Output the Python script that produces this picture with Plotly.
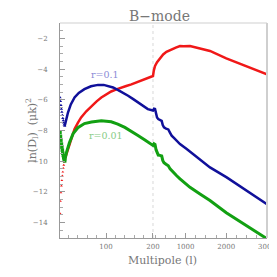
import plotly.graph_objects as go

# ---------------- data ----------------
ell_low = [2, 3, 4, 5, 6, 7, 8, 9, 10, 11, 12]
red_low = [-13.4, -12.6, -12.05, -11.6, -11.25, -10.95, -10.7, -10.45, -10.25, -10.05, -9.9]
blue_low = [-5.85, -6.1, -6.35, -6.6, -6.8, -7.0, -7.2, -7.35, -7.5, -7.62, -7.7]
green_low = [-8.13, -8.38, -8.63, -8.88, -9.08, -9.28, -9.48, -9.63, -9.78, -9.9, -9.98]

ell_red = [12, 19, 26, 33, 40, 47, 58, 69, 80, 90, 100, 111, 122, 132, 143, 154, 165, 175, 185, 193, 200,
           220, 250, 300, 370, 450, 530, 660, 760, 863, 950, 1109, 1250, 1354, 1600, 2000, 2500, 3000]
red = [-9.9, -9.2, -8.5, -7.9, -7.5, -7.15, -6.75, -6.4, -6.1, -5.85, -5.65, -5.46, -5.32, -5.2, -5.1, -5.0,
       -4.88, -4.77, -4.65, -4.55, -4.45,
       -4.1, -3.8, -3.55, -3.3, -3.05, -2.88, -2.71, -2.6, -2.5, -2.52, -2.5, -2.6, -2.67, -2.82, -3.3, -3.8, -4.34]

ell_blue = [12, 15, 19, 25, 33, 42, 54, 68, 83, 95, 104, 115, 125, 136, 147, 158, 168, 180, 189, 200,
            225, 250, 275, 300, 330, 370, 414, 440, 470, 520, 576, 620, 659, 720, 782, 863, 1028, 1190,
            1354, 1600, 2010, 2500, 3000]
blue = [-7.7, -7.3, -6.83, -6.3, -5.85, -5.55, -5.31, -5.12, -5.03, -5.03, -5.1, -5.2, -5.35, -5.53, -5.74,
        -5.96, -6.18, -6.42, -6.61, -6.7,
        -6.58, -6.6, -6.95, -7.15, -7.26, -7.3, -7.37, -7.65, -7.8, -7.88, -7.93, -8.15, -8.34, -8.5, -8.67,
        -8.88, -9.2, -9.53, -9.86, -10.4, -11.05, -11.9, -12.8]

ell_green = [12, 16, 22, 30, 40, 54, 69, 90, 111, 125, 140, 155, 168, 182, 196, 200,
             225, 250, 275, 300, 330, 370, 414, 440, 470, 520, 576, 620, 659, 720, 782, 863, 1028, 1109,
             1354, 1600, 2000, 2500, 3000]
green = [-9.98, -9.4, -8.8, -8.2, -7.82, -7.55, -7.45, -7.37, -7.43, -7.58, -7.8, -8.05, -8.32, -8.6, -8.88, -8.97,
         -8.86, -8.9, -9.25, -9.45, -9.6, -9.62, -9.66, -9.95, -10.1, -10.2, -10.3, -10.5, -10.62, -10.78,
         -10.95, -11.15, -11.5, -11.7, -12.13, -12.56, -13.35, -14.2, -15.05]

major_ticks = [100, 200, 1000, 2000, 3000]
major_text = ["100", "200", "1000", "2000", "3000"]
minor_ticks = [20, 40, 60, 80, 120, 140, 160, 180, 250, 500, 750, 1250, 1500, 1750, 2250, 2500, 2750]
y_ticks = [-14, -12, -10, -8, -6, -4, -2]

# hybrid axis: linear 2-200, compressed linear 200-3000
K = 0.0867


def xp(l):
    return l if l <= 200 else 200 + (l - 200) * K


def tx(arr):
    return [xp(v) for v in arr]


RED = "#f01818"
BLUE = "#10109a"
GREEN = "#12a012"
SERIF = "DejaVu Serif, serif"

fig = go.Figure()
fig.add_trace(go.Scatter(x=tx(ell_red), y=red, mode="lines", line=dict(color=RED, width=2.5)))
fig.add_trace(go.Scatter(x=tx(ell_blue), y=blue, mode="lines", line=dict(color=BLUE, width=2.5)))
fig.add_trace(go.Scatter(x=tx(ell_green), y=green, mode="lines", line=dict(color=GREEN, width=3)))
fig.add_trace(go.Scatter(x=tx(ell_low), y=red_low, mode="markers",
                         marker=dict(color=RED, size=2.5, symbol="triangle-up")))
fig.add_trace(go.Scatter(x=tx(ell_low), y=blue_low, mode="markers",
                         marker=dict(color=BLUE, size=3, symbol="triangle-up")))
fig.add_trace(go.Scatter(x=tx(ell_low), y=green_low, mode="markers",
                         marker=dict(color=GREEN, size=3.5, symbol="square")))

axis_font = dict(family=SERIF, size=7, color="#777")

# the page body adds an 8px offset; the figure is sized so the page does not overflow
fig.update_layout(
    width=269, height=261,
    margin=dict(l=52, r=10, t=15, b=31, autoexpand=False),
    paper_bgcolor="white", plot_bgcolor="white",
    showlegend=False,
    xaxis=dict(range=[2, xp(3000)], tickmode="array", tickvals=tx(major_ticks), ticktext=major_text,
               ticks="inside", ticklen=5, tickcolor="#999", showgrid=False, zeroline=False,
               showline=True, linecolor="#999", linewidth=1, tickfont=axis_font, ticklabelstandoff=2,
               ticklabeloverflow="allow",
               minor=dict(tickmode="array", tickvals=tx(minor_ticks), ticks="inside", ticklen=3,
                          tickcolor="#aaa", showgrid=False)),
    yaxis=dict(range=[-15, -1], tickmode="array", tickvals=y_ticks,
               ticks="inside", ticklen=5, tickcolor="#999", showgrid=False, zeroline=False,
               showline=True, linecolor="#999", linewidth=1, tickfont=axis_font, ticklabelstandoff=10,
               minor=dict(dtick=0.5, tick0=0, ticks="inside", ticklen=3, tickcolor="#aaa", showgrid=False)),
)

# frame (top & right) and dotted divider at l = 200
fig.add_shape(type="line", xref="paper", yref="paper", x0=0, x1=1, y0=1, y1=1,
              line=dict(color="#cfcfcf", width=1))
fig.add_shape(type="line", xref="paper", yref="paper", x0=1, x1=1, y0=0, y1=1,
              line=dict(color="#cfcfcf", width=2))
fig.add_shape(type="line", xref="x", yref="paper", x0=xp(200), x1=xp(200), y0=0, y1=1,
              line=dict(color="#d8d8d8", width=1, dash="dot"), layer="below")

fig.add_annotation(text="B\u2212mode", xref="paper", yref="paper", x=0.483, y=1.0325, yanchor="middle",
                   showarrow=False, font=dict(family=SERIF, size=14, color="#777"))
fig.add_annotation(text="Multipole (l)", xref="paper", yref="paper", x=0.495, y=-0.104, yanchor="middle",
                   showarrow=False, font=dict(family=SERIF, size=11, color="#777"))
fig.add_annotation(text="ln(D<sub>l</sub>)  (\u03bck)<sup>2</sup>", xref="paper", yref="paper",
                   x=-0.184, y=0.503, textangle=-90, showarrow=False,
                   font=dict(family=SERIF, size=11, color="#777"))
fig.add_annotation(text="r=0.1", x=xp(97), y=-4.34, showarrow=False,
                   font=dict(family=SERIF, size=9.5, color="#8a8ad6"))
fig.add_annotation(text="r=0.01", x=xp(99), y=-8.3, showarrow=False,
                   font=dict(family=SERIF, size=9.5, color="#86cc86"))

fig.write_html("out.html")
